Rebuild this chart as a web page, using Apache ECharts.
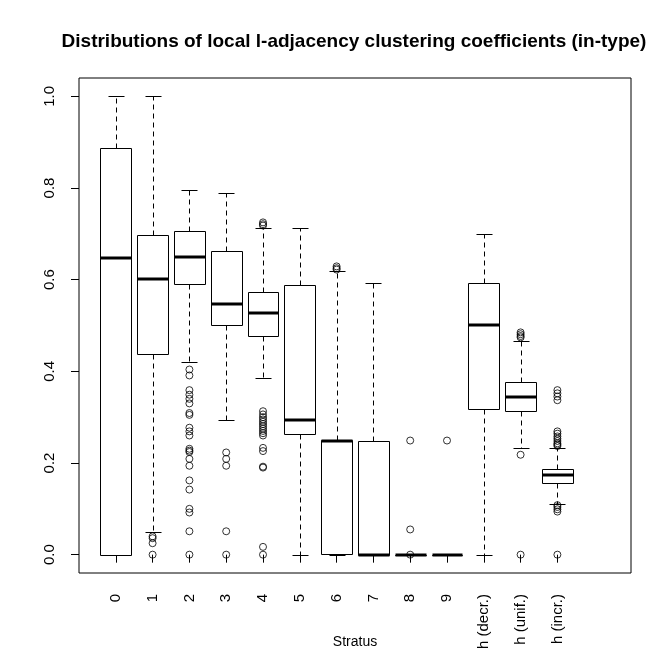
<!DOCTYPE html>
<html>
<head>
<meta charset="utf-8">
<script src="https://cdn.jsdelivr.net/npm/echarts@6/dist/echarts.min.js"></script>
<style>
  html, body { margin: 0; padding: 0; background: #fff; }
  #chart { width: 672px; height: 672px; }
</style>
</head>
<body>
<div id="chart"></div>
<script>
// categories (strata)
const categories = ['0', '1', '2', '3', '4', '5', '6', '7', '8', '9', 'h (decr.)', 'h (unif.)', 'h (incr.)'];

// box statistics
const lowWhisker  = [0,     0.050, 0.421, 0.294, 0.386, 0,     0,     0,     0, 0, 0,     0.233, 0.111];
const q1          = [0,     0.438, 0.591, 0.501, 0.478, 0.264, 0.002, 0,     0, 0, 0.318, 0.314, 0.156];
const median      = [0.648, 0.602, 0.650, 0.547, 0.528, 0.293, 0.248, 0,     0, 0, 0.502, 0.344, 0.174];
const q3          = [0.888, 0.698, 0.707, 0.663, 0.574, 0.589, 0.250, 0.248, 0, 0, 0.593, 0.377, 0.187];
const highWhisker = [1.000, 1.000, 0.796, 0.790, 0.713, 0.713, 0.618, 0.593, 0, 0, 0.699, 0.467, 0.233];

// outliers per stratum
const outliers = [
  [],
  [0.040, 0.036, 0.025, 0],
  [0.404, 0.391, 0.359, 0.349, 0.340, 0.330, 0.309, 0.305, 0.277, 0.269, 0.260, 0.231, 0.227, 0.224,
   0.209, 0.194, 0.162, 0.142, 0.100, 0.092, 0.051, 0],
  [0.223, 0.209, 0.194, 0.051, 0],
  [0.725, 0.721, 0.718, 0.313, 0.306, 0.300, 0.295, 0.290, 0.285, 0.280, 0.275, 0.270, 0.265, 0.260,
   0.233, 0.226, 0.192, 0.190, 0.017, 0],
  [],
  [0.629, 0.625, 0.622],
  [],
  [0.249, 0.055, 0],
  [0.249],
  [],
  [0.485, 0.481, 0.477, 0.474, 0.218, 0],
  [0.359, 0.352, 0.345, 0.337, 0.269, 0.264, 0.258, 0.253, 0.248, 0.243, 0.240, 0.237,
   0.108, 0.104, 0.099, 0.094, 0]
];

const yTicks = [0, 0.2, 0.4, 0.6, 0.8, 1.0];

const positions = categories.map((c, i) => i + 1);
const boxData = categories.map((c, i) => [i + 1, lowWhisker[i], q1[i], median[i], q3[i], highWhisker[i]]);
const outlierData = [];
outliers.forEach((list, i) => list.forEach(v => outlierData.push([i + 1, v])));

const px = v => Math.round(v) + 0.5;

function renderBox(params, api) {
  const x = api.value(0);
  const lo = api.value(1), a = api.value(2), m = api.value(3), b = api.value(4), hi = api.value(5);
  const half = 0.42, cap = 0.22;
  const pL = api.coord([x - half, b]), pR = api.coord([x + half, a]);
  const cx = px(api.coord([x, 0])[0]);
  const yLo = px(api.coord([x, lo])[1]), yA = px(api.coord([x, a])[1]);
  const yB = px(api.coord([x, b])[1]), yHi = px(api.coord([x, hi])[1]);
  const yM = api.coord([x, m])[1];
  const capL = px(api.coord([x - cap, 0])[0]), capR = px(api.coord([x + cap, 0])[0]);
  const xL = px(pL[0]), xR = px(pR[0]);
  const thin = { stroke: '#000', lineWidth: 1, fill: null };
  const dash = { stroke: '#000', lineWidth: 1, lineDash: [5, 4] };
  return {
    type: 'group',
    children: [
      { type: 'line', shape: { x1: cx, y1: yB, x2: cx, y2: yHi }, style: dash },
      { type: 'line', shape: { x1: cx, y1: yA, x2: cx, y2: yLo }, style: dash },
      { type: 'line', shape: { x1: capL, y1: yHi, x2: capR, y2: yHi }, style: thin },
      { type: 'line', shape: { x1: capL, y1: yLo, x2: capR, y2: yLo }, style: thin },
      { type: 'rect', shape: { x: xL, y: yB, width: xR - xL, height: yA - yB }, style: { stroke: '#000', lineWidth: 1, fill: '#fff' } },
      { type: 'line', shape: { x1: xL, y1: Math.round(yM), x2: xR, y2: Math.round(yM) }, style: { stroke: '#000', lineWidth: 3 } }
    ]
  };
}

const chart = echarts.init(document.getElementById('chart'), null, { renderer: 'canvas' });
const option = {
  backgroundColor: '#fff',
  animation: false,
  textStyle: { fontFamily: 'Liberation Sans, Arial, sans-serif' },
  graphic: [{
    type: 'text',
    x: 354, y: 42,
    style: {
      text: 'Distributions of local l-adjacency clustering coefficients (in-type)',
      font: 'bold 19px "Liberation Sans", Arial, sans-serif',
      fill: '#000',
      textAlign: 'center',
      textVerticalAlign: 'middle'
    }
  }],
  grid: {
    left: 79, top: 78, width: 552, height: 495,
    outerBoundsMode: 'none',
    containLabel: false,
    show: true, borderColor: '#000', borderWidth: 1, backgroundColor: 'transparent'
  },
  xAxis: {
    type: 'value',
    min: 0, max: 15,
    name: 'Stratus',
    nameLocation: 'middle',
    nameGap: 62,
    nameMoveOverlap: false,
    nameTextStyle: { color: '#000', fontSize: 14, verticalAlign: 'top' },
    axisLine: { show: false },
    splitLine: { show: false },
    axisTick: { show: true, length: 8, lineStyle: { color: '#000' }, customValues: positions },
    axisLabel: {
      customValues: positions,
      rotate: 90,
      margin: 21,
      color: '#000',
      fontSize: 15,
      formatter: v => categories[Math.round(v) - 1] || ''
    }
  },
  yAxis: {
    type: 'value',
    min: -0.04, max: 1.04,
    axisLine: { show: false },
    splitLine: { show: false },
    axisTick: { show: true, length: 8, lineStyle: { color: '#000' }, customValues: yTicks },
    axisLabel: {
      customValues: yTicks,
      rotate: 90,
      margin: 22,
      align: 'center',
      verticalAlign: 'bottom',
      color: '#000',
      fontSize: 15,
      formatter: v => v.toFixed(1)
    }
  },
  series: [
    {
      type: 'custom',
      renderItem: renderBox,
      data: boxData,
      encode: { x: 0, y: [1, 2, 3, 4, 5] },
      silent: true
    },
    {
      type: 'scatter',
      data: outlierData,
      symbol: 'circle',
      symbolSize: 7,
      itemStyle: { color: 'transparent', borderColor: '#000', borderWidth: 1 },
      silent: true
    }
  ]
};
chart.setOption(option);
</script>
</body>
</html>
